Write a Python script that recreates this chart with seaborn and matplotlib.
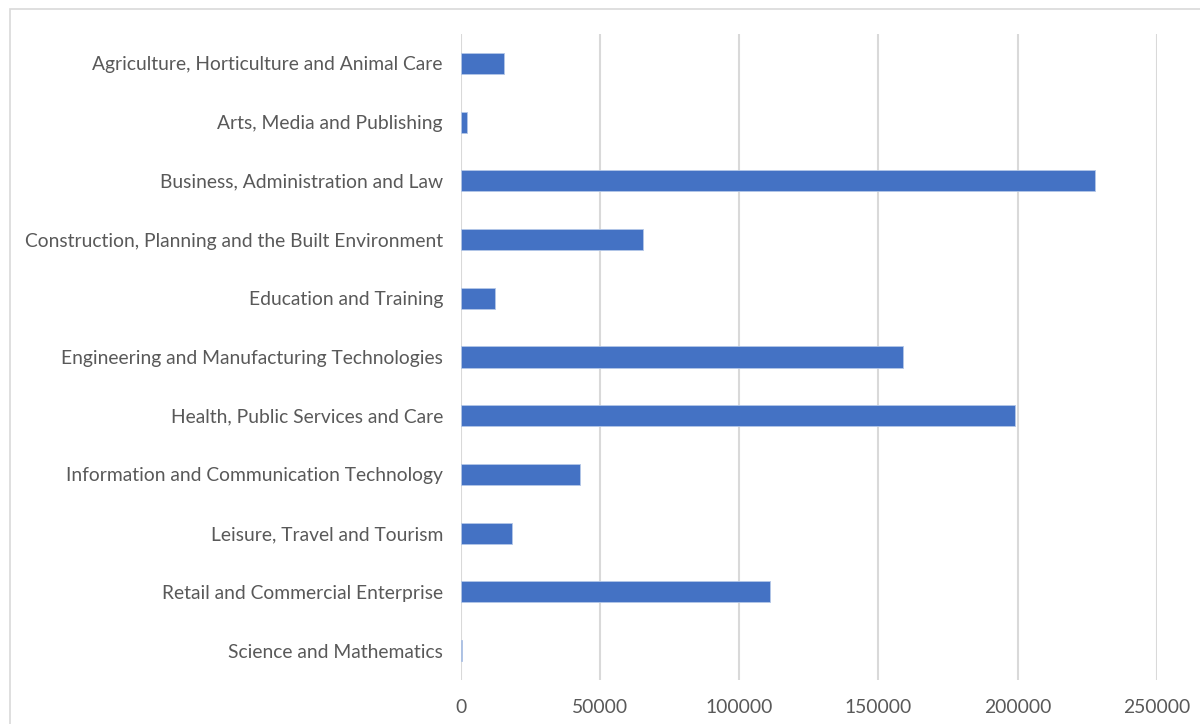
import matplotlib
matplotlib.use("Agg")
import matplotlib.pyplot as plt
import seaborn as sns
import pandas as pd
from matplotlib.patches import Rectangle

categories = [
    "Agriculture, Horticulture and Animal Care",
    "Arts, Media and Publishing",
    "Business, Administration and Law",
    "Construction, Planning and the Built Environment",
    "Education and Training",
    "Engineering and Manufacturing Technologies",
    "Health, Public Services and Care",
    "Information and Communication Technology",
    "Leisure, Travel and Tourism",
    "Retail and Commercial Enterprise",
    "Science and Mathematics",
]
values = [15600, 2100, 228000, 65500, 12300, 159000, 199200, 42800, 18400, 111200, 250]
xticks = [0, 50000, 100000, 150000, 200000, 250000]

df = pd.DataFrame({"category": categories, "value": values})

sns.set_theme(style="white")
plt.rcParams["font.family"] = ["Lato", "DejaVu Sans"]

fig = plt.figure(figsize=(12, 7.24), dpi=100)
ax = fig.add_axes([461 / 1200, 1 - 680 / 724, (1156.7 - 461) / 1200, (680 - 34) / 724])

sns.barplot(data=df, x="value", y="category", color="#4472C4", width=0.36,
            saturation=1, ax=ax, orient="h", zorder=3,
            edgecolor="#b4c7e7", linewidth=0.6)

ax.set_xlim(0, 250000)
ax.set_xticks(xticks)
ax.set_xticklabels([str(t) for t in xticks])
ax.xaxis.grid(True, color="#d9d9d9", linewidth=1.5, zorder=0)
ax.yaxis.grid(False)
for s in ax.spines.values():
    s.set_visible(False)
ax.tick_params(axis="x", length=0, pad=14, labelsize=13.9, labelcolor="#595959")
ax.tick_params(axis="y", length=0, pad=13, labelsize=13.9, labelcolor="#595959")
ax.set_xlabel("")
ax.set_ylabel("")

fig.patches.append(Rectangle((10 / 1200, -0.1), 1.2, 1 - 9.5 / 724 + 0.1,
                             transform=fig.transFigure, fill=False,
                             edgecolor="#d9d9d9", linewidth=1.2))

fig.savefig("out.png", dpi=100)
